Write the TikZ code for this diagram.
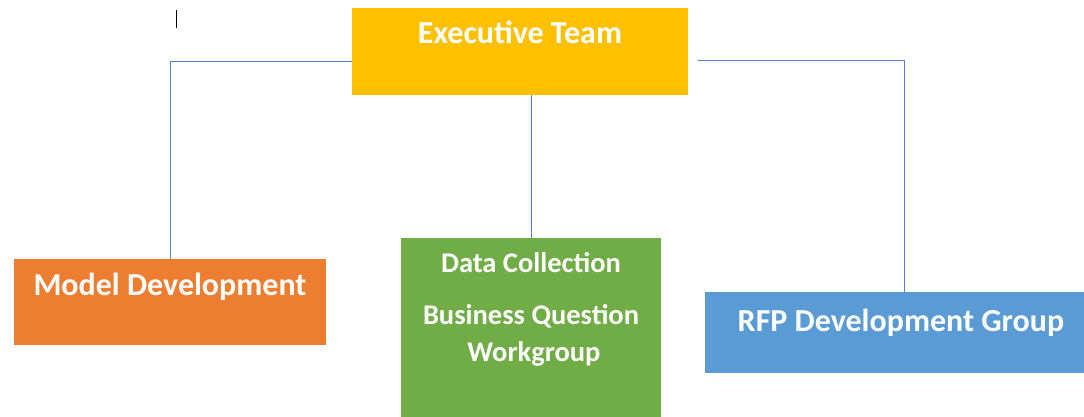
\documentclass[tikz,border=0pt]{standalone}
\usepackage{fontspec}
\setsansfont{Carlito}
\usepackage{tikz}
\usetikzlibrary{calc}

\definecolor{execfill}{RGB}{255,192,0}
\definecolor{modelfill}{RGB}{237,125,49}
\definecolor{datafill}{RGB}{112,173,71}
\definecolor{rfpfill}{RGB}{91,155,213}
\definecolor{linkcol}{RGB}{90,128,198}

\tikzset{
	orgbox/.style={rectangle, inner sep=0pt, anchor=north west},
	boxtext/.style={font=\sffamily\bfseries\fontsize{32}{38}\selectfont, text=white, inner sep=0pt, anchor=base},
	subtext/.style={boxtext, font=\sffamily\bfseries\fontsize{28.5}{34}\selectfont},
	link/.style={draw=linkcol, line width=0.8pt}
}

\begin{document}
\begin{tikzpicture}[x=1pt,y=-1pt]
		\useasboundingbox (0,0) rectangle (1084,417);
		% boxes
		\node[orgbox,fill=execfill,minimum width=336pt,minimum height=87pt] (exec) at (352,8) {};
		\node[orgbox,fill=modelfill,minimum width=312pt,minimum height=86pt] (model) at (14,259) {};
		\node[orgbox,fill=datafill,minimum width=260pt,minimum height=179pt] (data) at (401,238) {};
		\node[orgbox,fill=rfpfill,minimum width=379pt,minimum height=81pt] (rfp) at (705,292) {};
		% labels
		\node[boxtext] (execLbl) at (520,44) {Executive Team};
		\node[boxtext] (modelLbl) at (170,295) {Model Development};
		\node[subtext] (dataLbl) at (531,272) {Data Collection};
		\node[subtext] (busLbl) at (531,324) {Business Question};
		\node[subtext] (workLbl) at (534,361) {Workgroup};
		\node[boxtext] (rfpLbl) at (901,331) {RFP Development Group};
		% connectors
		\draw[link] ([yshift=-9.5pt]exec.west) -| (model.north);
		\draw[link] (data.north |- exec.south) -- (data.north);
		\coordinate (rfpTop) at ([xshift=9.5pt]rfp.north);
		\draw[link] ([xshift=10pt,yshift=-9pt]exec.east) -| (rfpTop);
		% cursor mark
		\draw[line width=1pt] (176,10) -- (176,28);
	\end{tikzpicture}
\end{document}
